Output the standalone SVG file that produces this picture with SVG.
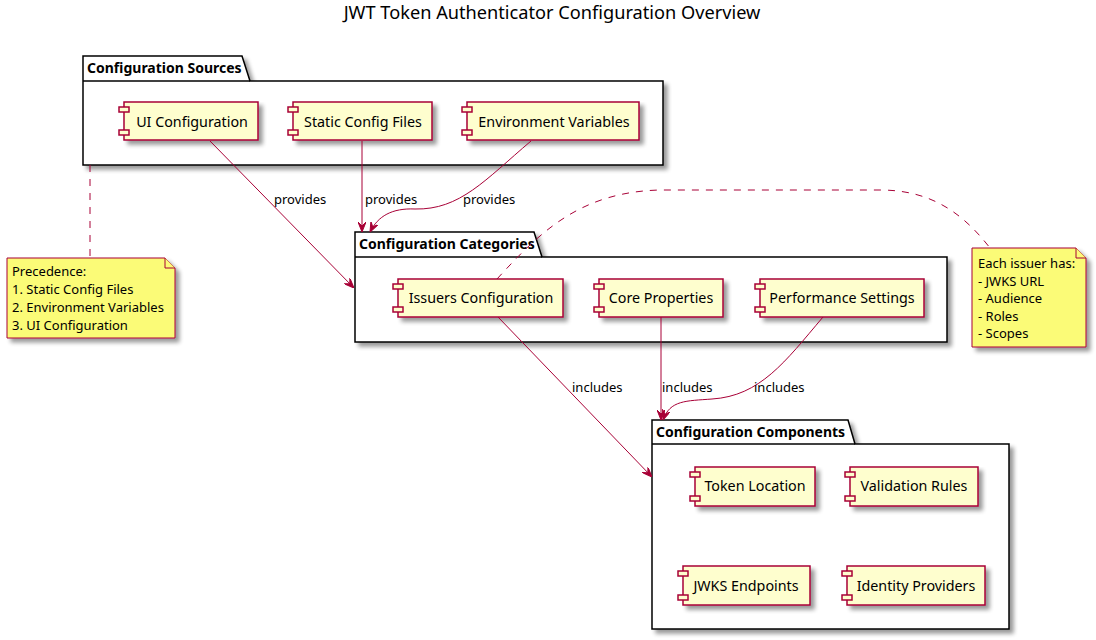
<svg xmlns="http://www.w3.org/2000/svg" width="1096" height="640" viewBox="0 0 1096 640">
<defs>
<filter id="sh" x="-10%" y="-10%" width="130%" height="140%">
<feGaussianBlur in="SourceAlpha" stdDeviation="2"/>
<feOffset dx="4" dy="4" result="b"/>
<feComponentTransfer><feFuncA type="linear" slope="0.4"/></feComponentTransfer>
<feMerge><feMergeNode/><feMergeNode in="SourceGraphic"/></feMerge>
</filter>
<marker id="arr" viewBox="0 0 10 8" refX="10" refY="4" markerWidth="10" markerHeight="8" markerUnits="userSpaceOnUse" orient="auto">
<path d="M0,0 L10,4 L0,8 L4,4 Z" fill="#A80036" stroke="#A80036" stroke-width="1"/>
</marker>
</defs>
<style>
text{font-family:"Noto Sans","DejaVu Sans",sans-serif;fill:#000}
.title{font-size:18.2px;text-anchor:middle}
.pkg path{fill:#fff;stroke:#000;stroke-width:1.5}
.pkgt{font-size:14px;font-weight:bold}
.comp rect{fill:#FEFECE;stroke:#A80036;stroke-width:1.5}
.ct{font-size:14.3px;text-anchor:middle}
.note path{fill:#FBFB77;stroke:#A80036;stroke-width:1}
.nt{font-size:13px}
.edge{fill:none;stroke:#A80036;stroke-width:1;marker-end:url(#arr)}
.dash{fill:none;stroke:#A80036;stroke-width:1;stroke-dasharray:7,7}
.lbl{font-size:13px}
</style>
<rect width="1096" height="640" fill="#fff"/>
<text class="title" x="552" y="19">JWT Token Authenticator Configuration Overview</text>

<g id="pkg-sources" class="pkg">
<path filter="url(#sh)" d="M83,56 L242,56 L250,81 L663,81 L663,165 L83,165 Z"/>
<path d="M83,81 L250,81"/>
<text class="pkgt" x="87" y="73">Configuration Sources</text>
</g>
<g id="pkg-categories" class="pkg">
<path filter="url(#sh)" d="M355,232 L534,232 L542,257 L947,257 L947,342 L355,342 Z"/>
<path d="M355,257 L542,257"/>
<text class="pkgt" x="359" y="249">Configuration Categories</text>
</g>
<g id="pkg-components" class="pkg">
<path filter="url(#sh)" d="M652,420 L848,420 L855,444 L1009,444 L1009,629 L652,629 Z"/>
<path d="M652,444 L855,444"/>
<text class="pkgt" x="656" y="437">Configuration Components</text>
</g>

<g id="ui-config" class="comp">
<rect filter="url(#sh)" x="124" y="102" width="134" height="38"/>
<rect x="119" y="107" width="10" height="5"/><rect x="119" y="130" width="10" height="5"/>
<text class="ct" x="192" y="127">UI Configuration</text>
</g>
<g id="static-config" class="comp">
<rect filter="url(#sh)" x="293" y="102" width="139" height="38"/>
<rect x="288" y="107" width="10" height="5"/><rect x="288" y="130" width="10" height="5"/>
<text class="ct" x="363" y="127">Static Config Files</text>
</g>
<g id="env-vars" class="comp">
<rect filter="url(#sh)" x="467" y="102" width="172" height="38"/>
<rect x="462" y="107" width="10" height="5"/><rect x="462" y="130" width="10" height="5"/>
<text class="ct" x="554" y="127">Environment Variables</text>
</g>

<g id="issuers" class="comp">
<rect filter="url(#sh)" x="398" y="279" width="165" height="38"/>
<rect x="393" y="284" width="10" height="5"/><rect x="393" y="307" width="10" height="5"/>
<text class="ct" x="481" y="303">Issuers Configuration</text>
</g>
<g id="core-props" class="comp">
<rect filter="url(#sh)" x="599" y="279" width="124" height="38"/>
<rect x="594" y="284" width="10" height="5"/><rect x="594" y="307" width="10" height="5"/>
<text class="ct" x="661" y="303">Core Properties</text>
</g>
<g id="perf" class="comp">
<rect filter="url(#sh)" x="760" y="279" width="164" height="38"/>
<rect x="755" y="284" width="10" height="5"/><rect x="755" y="307" width="10" height="5"/>
<text class="ct" x="842" y="303">Performance Settings</text>
</g>

<g id="token-location" class="comp">
<rect filter="url(#sh)" x="695" y="467" width="120" height="39"/>
<rect x="690" y="472" width="10" height="5"/><rect x="690" y="496" width="10" height="5"/>
<text class="ct" x="755" y="491">Token Location</text>
</g>
<g id="validation-rules" class="comp">
<rect filter="url(#sh)" x="850" y="467" width="128" height="39"/>
<rect x="845" y="472" width="10" height="5"/><rect x="845" y="496" width="10" height="5"/>
<text class="ct" x="914" y="491">Validation Rules</text>
</g>
<g id="jwks-endpoints" class="comp">
<rect filter="url(#sh)" x="683" y="566" width="127" height="39"/>
<rect x="678" y="571" width="10" height="5"/><rect x="678" y="595" width="10" height="5"/>
<text class="ct" x="746" y="591">JWKS Endpoints</text>
</g>
<g id="identity-providers" class="comp">
<rect filter="url(#sh)" x="847" y="566" width="138" height="39"/>
<rect x="842" y="571" width="10" height="5"/><rect x="842" y="595" width="10" height="5"/>
<text class="ct" x="916" y="591">Identity Providers</text>
</g>

<g id="note-precedence" class="note">
<path filter="url(#sh)" d="M7,258 L165,258 L175,268 L175,338 L7,338 Z"/>
<path d="M165,258 L165,268 L175,268"/>
<text class="nt" x="12" y="276">Precedence:</text>
<text class="nt" x="12" y="294">1. Static Config Files</text>
<text class="nt" x="12" y="312">2. Environment Variables</text>
<text class="nt" x="12" y="330">3. UI Configuration</text>
</g>
<g id="note-issuer" class="note">
<path filter="url(#sh)" d="M972,248 L1076,248 L1086,258 L1086,347 L972,347 Z"/>
<path d="M1076,248 L1076,258 L1086,258"/>
<text class="nt" x="978" y="268">Each issuer has:</text>
<text class="nt" x="978" y="286">- JWKS URL</text>
<text class="nt" x="978" y="303">- Audience</text>
<text class="nt" x="978" y="321">- Roles</text>
<text class="nt" x="978" y="338">- Scopes</text>
</g>

<g id="connectors">
<path class="dash" d="M90,165 L90,258"/>
<path class="dash" d="M497,279 C540,232 580,192 660,190 L880,190 C930,190 962,212 990,248"/>
<path class="edge" d="M210,141 L354,288"/>
<text class="lbl" x="274" y="204">provides</text>
<path class="edge" d="M362,141 L362,232"/>
<text class="lbl" x="365" y="204">provides</text>
<path class="edge" d="M531,141 C485,180 460,210 415,209 C392,208 378,216 370,232"/>
<text class="lbl" x="463" y="204">provides</text>
<path class="edge" d="M498,317 L652,477"/>
<text class="lbl" x="572" y="392">includes</text>
<path class="edge" d="M661,317 L661,420"/>
<text class="lbl" x="662" y="392">includes</text>
<path class="edge" d="M823,317 C785,362 760,396 712,399 C686,401 670,400 663,420"/>
<text class="lbl" x="754" y="392">includes</text>
</g>
</svg>
